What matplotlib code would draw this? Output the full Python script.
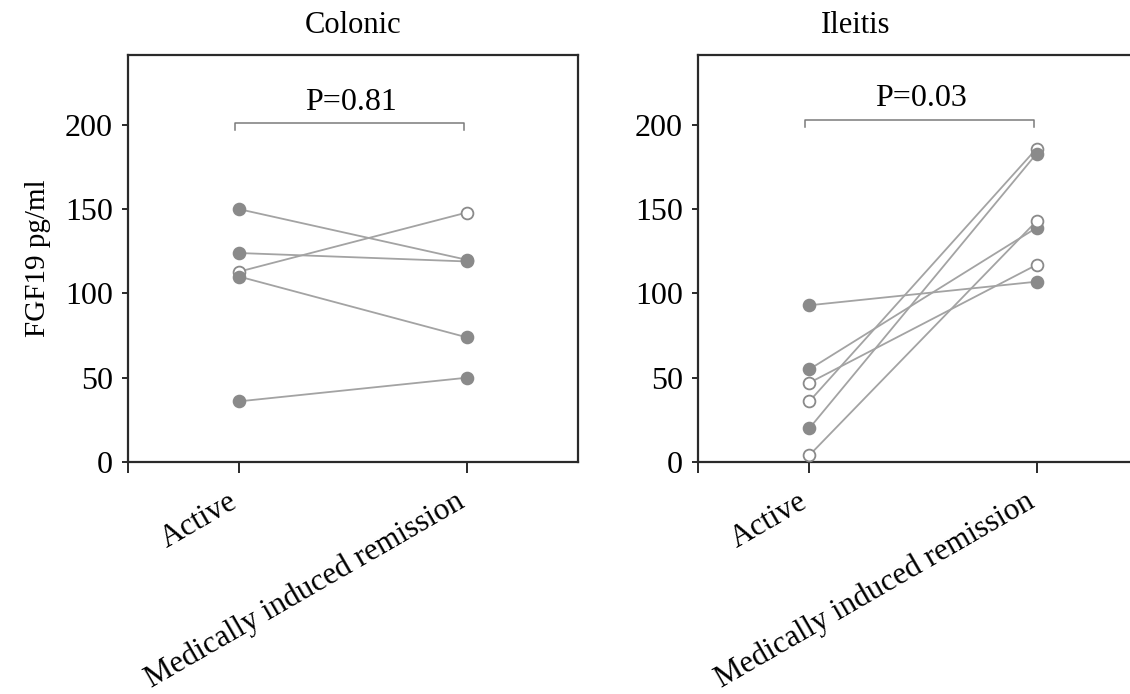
import numpy as np
import matplotlib.pyplot as plt
from matplotlib.transforms import ScaledTranslation

plt.rcParams['font.family'] = ['Liberation Serif', 'DejaVu Serif']

x_labels = ['Active', 'Medically induced remission']
y_ticks = [0, 50, 100, 150, 200]

# Colonic: paired values (active, remission) and whether the marker is open
colonic_active = [150, 124, 113, 110, 36]
colonic_remission = [120, 119, 148, 74, 50]
colonic_open = [False, False, True, False, False]

# Ileitis
ileitis_active = [93, 55, 47, 36, 20, 4]
ileitis_remission = [107, 139, 117, 186, 183, 143]
ileitis_open = [False, False, True, True, False, True]

titles = ['Colonic', 'Ileitis']
p_values = ['P=0.81', 'P=0.03']

line_color = '#a3a3a3'
marker_color = '#8a8a8a'
spine_color = '#2a2a2a'
fs = 23

W, H = 1130, 694
fig = plt.figure(figsize=(W / 100, H / 100), dpi=100)
ax1 = fig.add_axes([128 / W, 1 - 462 / H, 450 / W, 407 / H])
ax2 = fig.add_axes([698 / W, 1 - 462 / H, 450 / W, 407 / H])


def draw_panel(ax, active, remission, is_open, title, p_text, bracket_y):
    for a, r, o in zip(active, remission, is_open):
        ax.plot([0, 1], [a, r], color=line_color, lw=1.3, zorder=2)
        face = 'white' if o else marker_color
        ax.plot([0, 1], [a, r], ls='none', marker='o', ms=8.5,
                mfc=face, mec=marker_color, mew=1.3, zorder=3)
    ax.set_xlim(-0.49, 1.49)
    ax.set_ylim(0, 241.5)
    ax.set_yticks(y_ticks)
    ax.set_xticks([-0.49, 0, 1])
    ax.set_xticklabels([''] + x_labels, rotation=30, ha='right',
                       rotation_mode='anchor', fontsize=fs - 0.5)
    ax.tick_params(axis='y', labelsize=fs, length=4, width=1.4,
                   color=spine_color, pad=7)
    ax.tick_params(axis='x', length=8, width=1.4, color=spine_color, pad=10)
    # nudge the slanted labels so they end just left of their ticks
    shift = ScaledTranslation(-12 / 100, 0, fig.dpi_scale_trans)
    for tick in ax.xaxis.get_major_ticks():
        tick.label1.set_transform(tick.label1.get_transform() + shift)
    for s in ax.spines.values():
        s.set_linewidth(1.6)
        s.set_color(spine_color)
    ax.set_title(title, fontsize=fs - 1, pad=16)
    # significance bracket
    ax.plot([-0.02, -0.02, 0.99, 0.99],
            [bracket_y - 4, bracket_y, bracket_y, bracket_y - 4],
            color='#7a7a7a', lw=1.1, clip_on=False)
    ax.text(0.49, bracket_y + 4, p_text, ha='center', va='bottom', fontsize=fs)


draw_panel(ax1, colonic_active, colonic_remission, colonic_open,
           titles[0], p_values[0], 201)
draw_panel(ax2, ileitis_active, ileitis_remission, ileitis_open,
           titles[1], p_values[1], 203)
ax1.set_ylabel('FGF19 pg/ml', fontsize=fs - 2, labelpad=10)

# the right panel title sits over the visible part of the box
ax2.title.set_position((0.35, 1.0))

fig.savefig('out.png', dpi=100)
